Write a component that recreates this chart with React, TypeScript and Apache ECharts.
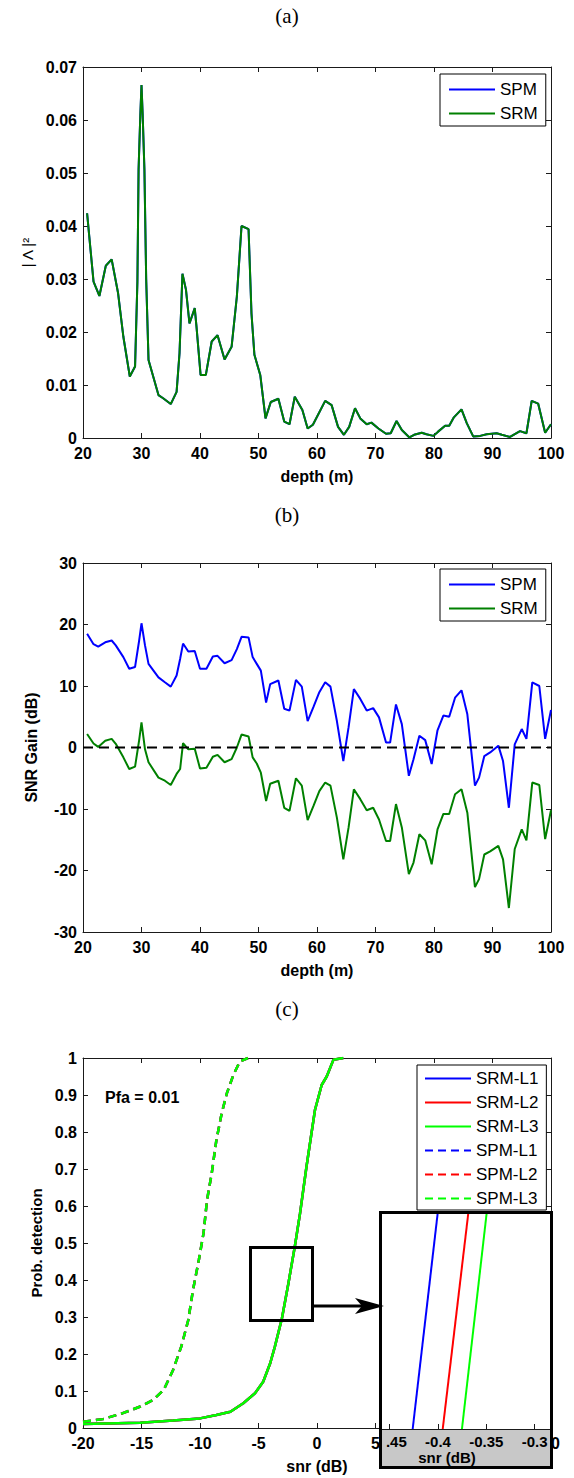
import React, { useEffect, useRef } from "react";
import * as echarts from "echarts";

// ---------- Panel (a): |Λ|² vs depth ----------
const depthA = [20.7, 21.8, 22.8, 23.9, 24.9, 26.0, 26.9, 28.0, 28.9, 29.3, 29.5, 29.8, 30.0, 30.2, 30.5, 30.8, 31.2, 32.9, 33.7, 35.0, 36.0, 36.5, 37.0, 37.6, 38.2, 39.1, 39.4, 40.1, 41.0, 42.0, 43.0, 44.2, 45.4, 46.3, 47.1, 48.3, 48.8, 49.3, 50.3, 51.2, 52.1, 53.4, 54.4, 55.3, 56.2, 57.5, 58.4, 59.3, 61.4, 62.5, 63.6, 64.6, 65.5, 66.5, 67.4, 68.5, 69.3, 70.5, 71.8, 72.6, 73.6, 74.5, 75.8, 76.6, 77.9, 78.7, 79.9, 80.7, 81.9, 82.6, 83.4, 84.7, 85.6, 86.7, 87.9, 89.0, 90.7, 91.6, 93.0, 94.7, 95.8, 96.7, 97.8, 99.0, 100];
const lambdaA = [0.0424, 0.0295, 0.0268, 0.0325, 0.0337, 0.0273, 0.0191, 0.0116, 0.0135, 0.0295, 0.0506, 0.061, 0.0666, 0.061, 0.0506, 0.03, 0.0147, 0.0081, 0.0075, 0.0064, 0.0087, 0.016, 0.031, 0.028, 0.0216, 0.0245, 0.021, 0.0119, 0.0119, 0.0182, 0.0194, 0.0148, 0.0172, 0.0267, 0.040, 0.0394, 0.0235, 0.0157, 0.0119, 0.0037, 0.0068, 0.0074, 0.0031, 0.0026, 0.0078, 0.0053, 0.0018, 0.0025, 0.0070, 0.0062, 0.0021, 0.0006, 0.0021, 0.0056, 0.0037, 0.0026, 0.0029, 0.0018, 0.0008, 0.0009, 0.0032, 0.0015, 0.0001, 0.0006, 0.0010, 0.0007, 0.0004, 0.0012, 0.0023, 0.0023, 0.0039, 0.0054, 0.0028, 0.0003, 0.0004, 0.0007, 0.0009, 0.0006, 0.0002, 0.0013, 0.0009, 0.0070, 0.0065, 0.0010, 0.0026];

// ---------- Panel (b): SNR gain vs depth ----------
const depthB = [20.7, 21.8, 22.6, 23.8, 24.9, 25.6, 26.9, 27.9, 28.9, 29.6, 30.0, 30.6, 31.2, 32.9, 34.0, 35.0, 36.0, 36.6, 37.1, 38.0, 39.1, 40.0, 41.1, 42.2, 43.0, 44.2, 45.4, 46.3, 47.1, 48.3, 49.0, 49.7, 50.4, 51.3, 52.0, 53.4, 54.4, 55.3, 56.4, 57.4, 58.4, 59.4, 60.4, 61.4, 62.3, 63.4, 64.5, 65.4, 66.3, 67.4, 68.5, 69.6, 70.6, 71.8, 72.5, 73.5, 74.5, 75.7, 76.5, 77.5, 78.5, 79.6, 80.6, 81.6, 82.6, 83.6, 84.7, 85.7, 87.0, 87.7, 88.6, 89.6, 91.0, 91.8, 92.8, 93.8, 95.0, 95.8, 96.8, 98.0, 99.0, 100];
const gainSPM = [18.5, 16.8, 16.4, 17.1, 17.4, 16.6, 14.7, 12.8, 13.1, 17.4, 20.2, 16.6, 13.6, 11.4, 10.6, 9.9, 11.7, 14.4, 16.9, 15.6, 15.7, 12.8, 12.8, 14.8, 14.9, 13.7, 14.2, 16.0, 18.0, 17.9, 14.7, 13.6, 12.5, 7.3, 10.3, 10.9, 6.3, 6.0, 11.0, 9.9, 4.3, 6.6, 9.0, 10.6, 9.9, 4.3, -2.2, 3.3, 9.5, 7.9, 6.0, 6.4, 4.9, 0.8, 0.8, 7.0, 3.8, -4.6, -1.9, 1.9, 1.2, -2.7, 2.8, 5.2, 5.0, 8.1, 9.3, 5.4, -6.2, -4.9, -1.4, -0.8, 0.3, -2.2, -9.8, 0.5, 3.0, 1.4, 10.6, 10.0, 1.4, 6.1];
const gainSRM = [2.2, 0.65, 0.1, 1.1, 1.4, 0.6, -1.6, -3.5, -3.1, 1.2, 4.1, -0.3, -2.4, -4.9, -5.4, -6.1, -4.3, -3.5, 0.7, -0.3, -0.2, -3.4, -3.3, -1.5, -1.2, -2.4, -1.9, 0, 2.1, 1.8, -1.6, -2.6, -4.1, -8.7, -5.9, -5.4, -9.8, -10.3, -5.0, -6.2, -11.8, -9.5, -7.1, -5.7, -6.2, -11.4, -18.2, -13.0, -6.8, -8.4, -10.2, -9.8, -11.7, -15.2, -15.2, -9.2, -13.0, -20.6, -18.7, -14.1, -15.1, -19.0, -13.3, -10.8, -10.8, -7.6, -6.8, -10.6, -22.7, -21.4, -17.4, -16.9, -16.0, -18.2, -26.1, -16.5, -13.3, -15.1, -5.7, -6.1, -14.9, -10.2];
const zeroX = [20, 100];
const zeroY = [0, 0];

// ---------- Panel (c): probability of detection vs snr ----------
const snrSRM = [-20, -15.1, -12.3, -10.0, -8.6, -7.4, -6.3, -5.3, -4.6, -4.0, -3.6, -3.0, -2.45, -1.9, -1.45, -0.9, -0.17, 0.4, 0.83, 1.4, 2.25];
const pdSRM = [0.011, 0.014, 0.02, 0.026, 0.035, 0.044, 0.067, 0.094, 0.125, 0.175, 0.22, 0.296, 0.39, 0.49, 0.58, 0.706, 0.86, 0.927, 0.95, 0.995, 1.0];
const snrSPM = [-20, -18.3, -16.6, -15.1, -14.0, -13.1, -12.3, -11.6, -11.0, -10.6, -10.1, -9.7, -9.4, -9.0, -8.6, -8.15, -7.7, -7.15, -6.6, -5.9];
const pdSPM = [0.017, 0.024, 0.04, 0.058, 0.076, 0.103, 0.157, 0.22, 0.292, 0.373, 0.454, 0.526, 0.616, 0.688, 0.778, 0.85, 0.905, 0.954, 0.99, 1.0];

// inset (zoom) lines
const insetSnrL1 = [-0.4262, -0.4003];
const insetSnrL2 = [-0.3951, -0.3686];
const insetSnrL3 = [-0.3752, -0.3496];
const insetPd = [0.44, 0.46];
const insetTicks = [-0.45, -0.4, -0.35, -0.3];
// main snr tick labels hidden behind the inset
const hiddenSnrTicks = [10, 15];

const legendAB = ["SPM", "SRM"];
const legendC = ["SRM-L1", "SRM-L2", "SRM-L3", "SPM-L1", "SPM-L2", "SPM-L3"];

const FONT = "Liberation Sans, Arial, sans-serif";
const AX = "#1a1a1a";
const BLUE = "#0000ff";
const DGREEN = "#008000";
const RED = "#ff0000";
const LGREEN = "#00ff00";

function mkX(gridIndex: number, min: number, max: number, interval: number, name: string, formatter?: any) {
  const common: any = {
    type: "value", gridIndex, min, max, interval,
    splitLine: { show: false },
    axisLine: { show: true, onZero: false, lineStyle: { color: AX, width: 1 } },
    axisTick: { show: true, inside: true, length: 5, lineStyle: { color: AX, width: 1 } },
  };
  const label: any = { show: true, margin: 7, fontFamily: FONT, fontWeight: "bold", fontSize: 16, color: "#000" };
  if (formatter) label.formatter = formatter;
  return [
    {
      ...common, position: "bottom", name, nameLocation: "middle", nameGap: 30,
      nameTextStyle: { fontFamily: FONT, fontWeight: "bold", fontSize: 16, color: "#000" },
      axisLabel: label,
    },
    { ...common, position: "top", axisLabel: { show: false } },
  ];
}

function mkY(gridIndex: number, min: number, max: number, interval: number, name: string, nameGap: number, nameStyle: any) {
  const common: any = {
    type: "value", gridIndex, min, max, interval,
    splitLine: { show: false },
    axisLine: { show: true, onZero: false, lineStyle: { color: AX, width: 1 } },
    axisTick: { show: true, inside: true, length: 5, lineStyle: { color: AX, width: 1 } },
  };
  return [
    {
      ...common, position: "left", name, nameLocation: "middle", nameGap, nameRotate: 90,
      nameTextStyle: { fontFamily: FONT, color: "#000", ...nameStyle },
      axisLabel: { show: true, margin: 6, fontFamily: FONT, fontWeight: "bold", fontSize: 16, color: "#000" },
    },
    { ...common, position: "right", axisLabel: { show: false } },
  ];
}

function line(name: string, xs: number[], ys: number[], color: string, xi: number, yi: number, width: number, dash?: any, z = 2) {
  return {
    type: "line", name, xAxisIndex: xi, yAxisIndex: yi,
    data: xs.map((x, i) => [x, ys[i]]),
    symbol: "none", showSymbol: false, silent: true, z,
    lineStyle: { color, width, type: dash || "solid", cap: "butt" },
    itemStyle: { color },
  };
}

function legendBox(data: string[], left: number, top: number, padding: number[], gap: number) {
  return {
    data, orient: "vertical", left, top, padding, itemGap: gap, itemWidth: 46, itemHeight: 14,
    backgroundColor: "#fff", borderColor: "#000", borderWidth: 1, borderRadius: 0,
    selectedMode: false,
    itemStyle: { opacity: 0 },
    textStyle: { fontFamily: FONT, fontSize: 17, color: "#000" },
  };
}

export default function App() {
  const ref = useRef<HTMLDivElement>(null);

  useEffect(() => {
    if (!ref.current) return;
    const chart = echarts.init(ref.current, null, { renderer: "svg" });
    const dash = [8, 5];
    const titleText = (t: string, y: number) => ({
      type: "text", x: 287, y, z: 20,
      style: { text: t, fill: "#000", fontSize: 21, fontFamily: "Liberation Serif", textAlign: "center", textVerticalAlign: "middle" },
    });

    const option: any = {
      animation: false,
      backgroundColor: "#fff",
      grid: [
        { left: 83, top: 67, width: 468, height: 371 },
        { left: 83, top: 563, width: 468, height: 369 },
        { left: 83, top: 1058, width: 468, height: 370 },
        { left: 381, top: 1213, width: 170, height: 216 },
      ],
      xAxis: [
        ...mkX(0, 20, 100, 10, "depth (m)"),
        ...mkX(1, 20, 100, 10, "depth (m)"),
        ...mkX(2, -20, 20, 5, "snr (dB)", (v: number) => (hiddenSnrTicks.indexOf(v) >= 0 ? "" : String(v))),
        {
          type: "value", gridIndex: 3, min: -0.459, max: -0.283, z: 10,
          splitLine: { show: false },
          axisLine: { show: true, onZero: false, lineStyle: { color: AX, width: 1 } },
          axisTick: { show: true, inside: true, length: 5, customValues: insetTicks, lineStyle: { color: AX, width: 1 } },
          axisLabel: {
            show: true, margin: 5, customValues: insetTicks,
            fontFamily: FONT, fontWeight: "bold", fontSize: 15, color: "#000",
            formatter: (v: number) => {
              const s = String(Math.round(v * 100) / 100);
              return v < -0.44 ? "{h|" + s.slice(0, 2) + "}{v|" + s.slice(2) + "}" : s;
            },
            rich: {
              h: { fontFamily: FONT, fontWeight: "bold", fontSize: 15, color: "rgba(0,0,0,0)" },
              v: { fontFamily: FONT, fontWeight: "bold", fontSize: 15, color: "#000" },
            },
          },
          name: "snr (dB)", nameLocation: "middle", nameGap: 21,
          nameTextStyle: { fontFamily: FONT, fontWeight: "bold", fontSize: 15, color: "#000", padding: [0, 38, 0, 0] },
        },
      ],
      yAxis: [
        ...mkY(0, 0, 0.07, 0.01, "| Λ |²", 48, { fontSize: 15 }),
        ...mkY(1, -30, 30, 10, "SNR Gain (dB)", 44, { fontSize: 16, fontWeight: "bold" }),
        ...mkY(2, 0, 1, 0.1, "Prob. detection", 38, { fontSize: 15, fontWeight: "bold" }),
        { type: "value", gridIndex: 3, min: insetPd[0], max: insetPd[1], show: false },
      ],
      legend: [
        legendBox(legendAB, 440, 74, [7, 8, 4, 8], 7),
        legendBox(legendAB, 440, 569, [7, 8, 4, 8], 7),
        legendBox(legendC, 417, 1065, [5, 8, 3, 7], 7),
      ],
      series: [
        // (a)
        line("SPM", depthA, lambdaA, BLUE, 0, 0, 2, undefined, 2),
        line("SRM", depthA, lambdaA, DGREEN, 0, 0, 2, undefined, 3),
        // (b)
        line("SPM", depthB, gainSPM, BLUE, 2, 2, 2),
        line("SRM", depthB, gainSRM, DGREEN, 2, 2, 2),
        line("zero", zeroX, zeroY, "#000", 2, 2, 2, [10, 6], 4),
        // (c)
        line("SRM-L1", snrSRM, pdSRM, BLUE, 4, 4, 2.5),
        line("SRM-L2", snrSRM, pdSRM, RED, 4, 4, 2.5),
        line("SRM-L3", snrSRM, pdSRM, LGREEN, 4, 4, 2.5),
        line("SPM-L1", snrSPM, pdSPM, BLUE, 4, 4, 2.5, dash),
        line("SPM-L2", snrSPM, pdSPM, RED, 4, 4, 2.5, dash),
        line("SPM-L3", snrSPM, pdSPM, LGREEN, 4, 4, 2.5, dash),
        // inset
        line("zoom-L1", insetSnrL1, insetPd, BLUE, 6, 6, 2, undefined, 10),
        line("zoom-L2", insetSnrL2, insetPd, RED, 6, 6, 2, undefined, 10),
        line("zoom-L3", insetSnrL3, insetPd, LGREEN, 6, 6, 2, undefined, 10),
      ],
      graphic: [
        titleText("(a)", 16),
        titleText("(b)", 515),
        titleText("(c)", 1009),
        {
          type: "text", x: 105, y: 1097, z: 20,
          style: { text: "Pfa = 0.01", fill: "#000", fontSize: 16, fontWeight: "bold", fontFamily: "Liberation Sans", textAlign: "left", textVerticalAlign: "middle" },
        },
        // inset backgrounds
        { type: "rect", z: 5, shape: { x: 381, y: 1213, width: 171, height: 216 }, style: { fill: "#fff" } },
        { type: "rect", z: 5, shape: { x: 381, y: 1429, width: 171, height: 38 }, style: { fill: "#c8c8c8" } },
        { type: "rect", z: 20, shape: { x: 380.5, y: 1212.5, width: 171, height: 255 }, style: { fill: "none", stroke: "#000", lineWidth: 3 } },
        // zoom box and arrow
        { type: "rect", z: 20, shape: { x: 250.5, y: 1247.5, width: 62, height: 73 }, style: { fill: "none", stroke: "#000", lineWidth: 3 } },
        { type: "line", z: 20, shape: { x1: 313, y1: 1306, x2: 366, y2: 1306 }, style: { stroke: "#000", lineWidth: 3 } },
        { type: "polygon", z: 20, shape: { points: [[355, 1298], [384, 1306], [355, 1314], [362, 1306]] }, style: { fill: "#000" } },
      ],
    };
    chart.setOption(option);
    return () => chart.dispose();
  }, []);

  return <div ref={ref} style={{ position: "absolute", left: 0, top: 0, width: 574, height: 1478 }} />;
}
